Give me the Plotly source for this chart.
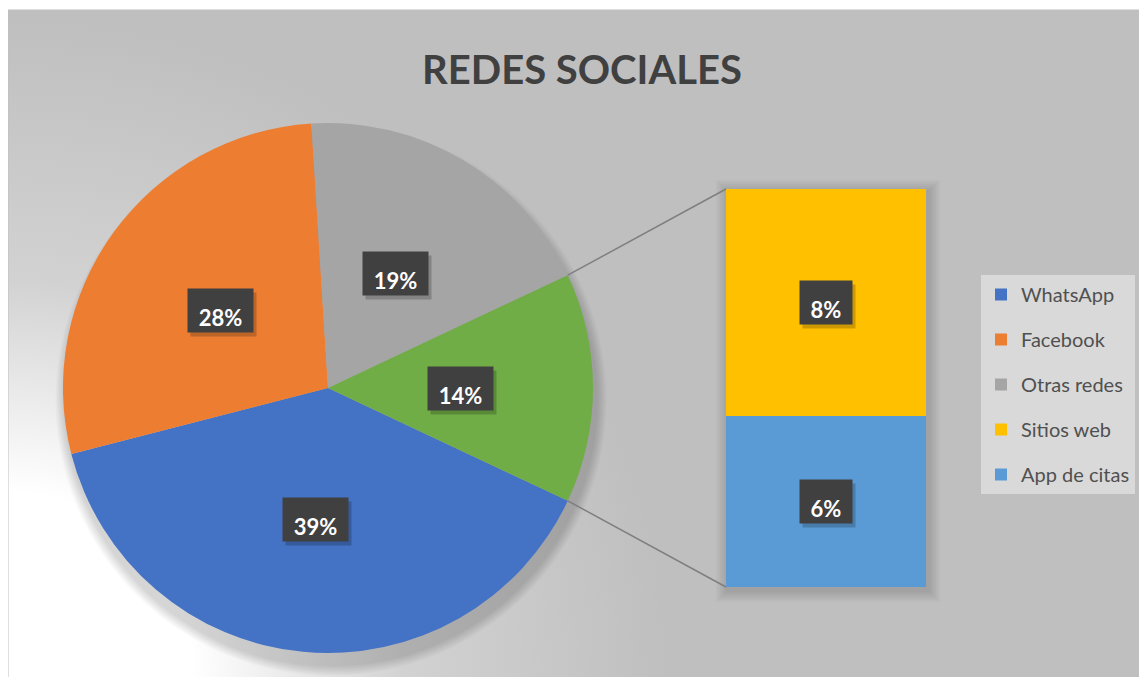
import base64
import math
import plotly.graph_objects as go

W, H = 1147, 677
OFF = 8  # page margin around the figure

# main pie (last slice is the one broken out into the bar)
pie_labels = ["WhatsApp", "Facebook", "Otras redes", "Otros"]
pie_values = [39, 28, 19, 14]
pie_colors = ["#4472C4", "#ED7D31", "#A5A5A5", "#70AD47"]

# secondary bar, bottom to top
bar_labels = ["App de citas", "Sitios web"]
bar_values = [6, 8]
bar_colors = ["#5B9BD5", "#FFC000"]

legend_order = ["WhatsApp", "Facebook", "Otras redes", "Sitios web", "App de citas"]

# geometry in screen pixels (y down)
cx, cy, R = 328, 388, 265
bx0, bx1, by0, by1 = 726, 926, 189, 587


def px(x):
    return (x - OFF) / W


def py(y):
    return 1 - (y - OFF) / H


total = sum(pie_values)
half = pie_values[-1] / total * 180  # half-angle of broken-out slice
rotation = 90 + half

fig = go.Figure()

fig.add_trace(go.Pie(
    labels=pie_labels, values=pie_values, sort=False, direction="clockwise",
    rotation=rotation, marker=dict(colors=pie_colors, line=dict(width=0)),
    textinfo="none", showlegend=False, hoverinfo="label+percent",
    domain=dict(x=[px(cx - R), px(cx + R)], y=[py(cy + R), py(cy - R)]),
))

# legend entries for the pie slices shown in the legend
for lab, col in zip(pie_labels[:-1], pie_colors[:-1]):
    fig.add_trace(go.Bar(x=[None], y=[None], name=lab, marker_color=col,
                         marker_line_width=0, legendgroup=lab,
                         legendrank=legend_order.index(lab)))

for lab, val, col in zip(bar_labels, bar_values, bar_colors):
    fig.add_trace(go.Bar(x=["Otros"], y=[val], name=lab, marker_color=col,
                         marker_line_width=0, width=1, legendgroup=lab,
                         legendrank=legend_order.index(lab)))

# background: radial gradient from bottom-left corner
gx0, gy0 = 8, 10
gw, gh = W, H
svg = (f'<svg xmlns="http://www.w3.org/2000/svg" width="{gw}" height="{gh}">'
       f'<defs><radialGradient id="g" gradientUnits="userSpaceOnUse" cx="0" cy="{gh - 10}" r="660">'
       '<stop offset="0" stop-color="#FFFFFF"/><stop offset="0.28" stop-color="#FFFFFF"/>'
       '<stop offset="0.6" stop-color="#D2D2D2"/><stop offset="1" stop-color="#BFBFBF"/>'
       '</radialGradient></defs>'
       f'<rect width="{gw}" height="{gh}" fill="url(#g)"/></svg>')
src = "data:image/svg+xml;base64," + base64.b64encode(svg.encode()).decode()

shapes = []
# chart frame
shapes.append(dict(type="rect", xref="paper", yref="paper", x0=px(gx0), x1=px(W + 20),
                   y0=py(H + 20), y1=py(gy0), line=dict(color="#BFBFBF", width=1),
                   layer="below"))
# soft pie shadow, mostly below the pie
for k in range(1, 8):
    r = R + 1.5 * k
    shapes.append(dict(type="circle", xref="paper", yref="paper",
                       x0=px(cx + 3 - r), x1=px(cx + 3 + r),
                       y0=py(cy + 12 + r), y1=py(cy + 12 - r),
                       fillcolor="rgba(0,0,0,0.022)", line=dict(width=0), layer="below"))
# soft bar shadow
for k in range(1, 7):
    d = 2 * k
    shapes.append(dict(type="rect", xref="paper", yref="paper",
                       x0=px(bx0 - d + 2), x1=px(bx1 + d + 2),
                       y0=py(by1 + d + 3), y1=py(by0 - d + 3),
                       fillcolor="rgba(0,0,0,0.025)", line=dict(width=0), layer="below"))
# connector lines from the broken-out slice to the bar
for ang, by in [(half, by0), (-half, by1)]:
    a = math.radians(ang)
    shapes.append(dict(type="line", xref="paper", yref="paper",
                       x0=px(cx + R * math.cos(a)), y0=py(cy - R * math.sin(a)),
                       x1=px(bx0), y1=py(by), line=dict(color="#7F7F7F", width=1.5)))

annotations = []


def label_box(x, y, text, xref="paper", yref="paper"):
    w = 63 if len(text) > 2 else 50
    common = dict(x=x, y=y, xref=xref, yref=yref, showarrow=False,
                  width=w, height=41, xanchor="center", yanchor="middle")
    annotations.append(dict(common, text="", bgcolor="rgba(0,0,0,0.2)",
                            xshift=3, yshift=-4))
    annotations.append(dict(common, text=f"<b>{text}</b>", bgcolor="#404040",
                            valign="bottom",
                            font=dict(family="Lato", size=22, color="#FFFFFF")))


start = 90 - rotation
for val in pie_values:
    sweep = val / total * 360
    mid = math.radians(start - sweep / 2)
    start -= sweep
    label_box(px(cx + 0.5 * R * math.cos(mid)), py(cy - 0.5 * R * math.sin(mid)),
              f"{round(val / total * 100)}%")

base = 0
for val in bar_values:
    label_box("Otros", base + val / 2, f"{val}%", xref="x", yref="y")
    base += val

fig.update_layout(
    width=W, height=H, margin=dict(l=0, r=0, t=0, b=0),
    paper_bgcolor="#FFFFFF", plot_bgcolor="rgba(0,0,0,0)",
    barmode="stack", bargap=0,
    title=dict(text="<b>REDES SOCIALES</b>", x=px(582), y=py(70),
               xanchor="center", yanchor="middle",
               font=dict(family="Lato", size=40, color="#404040")),
    xaxis=dict(domain=[px(bx0), px(bx1)], range=[-0.5, 0.5], visible=False,
               type="category", fixedrange=True),
    yaxis=dict(domain=[py(by1), py(by0)], range=[0, sum(bar_values)], visible=False,
               fixedrange=True),
    legend=dict(x=px(981), y=py(275), xanchor="left", yanchor="top",
                bgcolor="#D9D9D9", traceorder="grouped", tracegroupgap=16,
                font=dict(family="Lato", size=20, color="#505050")),
    images=[dict(source=src, xref="paper", yref="paper", x=px(gx0), y=py(gy0),
                 sizex=1, sizey=1, xanchor="left", yanchor="top",
                 sizing="stretch", layer="below")],
    shapes=shapes, annotations=annotations,
)

fig.write_html("out.html")
